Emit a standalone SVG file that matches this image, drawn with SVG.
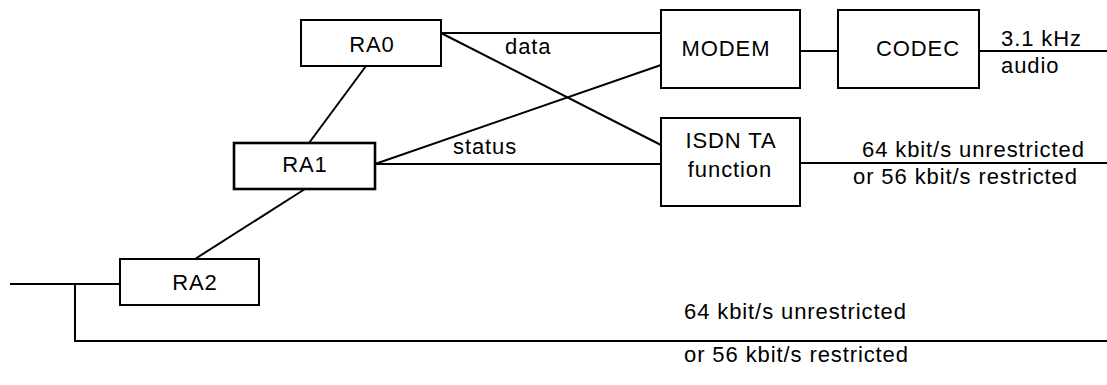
<svg xmlns="http://www.w3.org/2000/svg" width="1107" height="385" viewBox="0 0 1107 385">
<style>
.box{fill:#fff;stroke:#000;stroke-width:2}
.thick{stroke-width:2.6}
.ln{fill:none;stroke:#000;stroke-width:2}
text{font-family:"Liberation Sans",Arial,sans-serif;font-size:22px;fill:#000;letter-spacing:0.9px}
.c{text-anchor:middle}
</style>
<rect width="1107" height="385" fill="#fff"/>
<g id="connectors">
<line class="ln" x1="441" y1="33" x2="661" y2="33"/>
<line class="ln" x1="441" y1="33" x2="661" y2="145"/>
<line class="ln" x1="375" y1="164" x2="661" y2="65"/>
<line class="ln" x1="375" y1="164" x2="661" y2="164"/>
<line class="ln" x1="366" y1="66" x2="309" y2="143"/>
<line class="ln" x1="305" y1="189" x2="195" y2="259"/>
<line class="ln" x1="800" y1="51" x2="838" y2="51"/>
<line class="ln" x1="979" y1="51" x2="1107" y2="51"/>
<line class="ln" x1="800" y1="163" x2="1107" y2="163"/>
<line class="ln" x1="10" y1="284" x2="120" y2="284"/>
<polyline class="ln" points="75,284 75,341 1107,341"/>
<text x="505" y="54">data</text>
<text x="453" y="154">status</text>
<text x="1001" y="46">3.1 kHz</text>
<text x="1001" y="73">audio</text>
<text x="862" y="157">64 kbit/s unrestricted</text>
<text x="853" y="184">or 56 kbit/s restricted</text>
<text x="684" y="319">64 kbit/s unrestricted</text>
<text x="684" y="362">or 56 kbit/s restricted</text>
</g>
<g id="RA0">
<rect class="box" x="301" y="20" width="140" height="46"/>
<text class="c" x="372" y="52">RA0</text>
</g>
<g id="RA1">
<rect class="box thick" x="234" y="143" width="141" height="46"/>
<text class="c" x="305" y="172">RA1</text>
</g>
<g id="RA2">
<rect class="box" x="120" y="259" width="139" height="46"/>
<text class="c" x="195" y="290">RA2</text>
</g>
<g id="MODEM">
<rect class="box" x="661" y="10" width="139" height="78"/>
<text class="c" x="726" y="56">MODEM</text>
</g>
<g id="CODEC">
<rect class="box" x="838" y="10" width="141" height="78"/>
<text class="c" x="918" y="56">CODEC</text>
</g>
<g id="ISDN_TA">
<rect class="box" x="661" y="118" width="139" height="88"/>
<text class="c" x="731" y="148">ISDN TA</text>
<text class="c" x="730" y="177">function</text>
</g>
</svg>
